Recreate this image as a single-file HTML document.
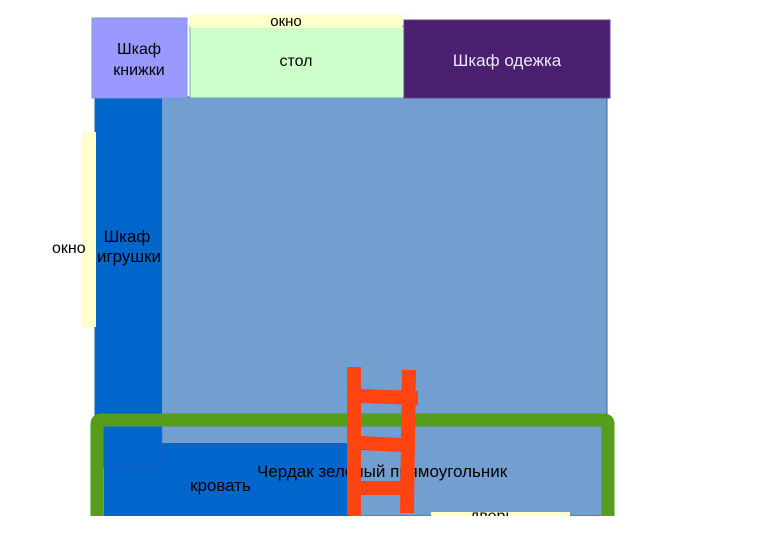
<!DOCTYPE html>
<html><head><meta charset="utf-8"><style>body{margin:0;background:#fff}svg{display:block}text{font-family:"Liberation Sans",sans-serif}</style></head><body>
<svg width="770" height="544" viewBox="0 0 770 544" xmlns="http://www.w3.org/2000/svg">
<rect x="95" y="97" width="512" height="419" fill="#729fcf" stroke="#3465a4" stroke-width="1"/>
<rect x="95" y="97" width="67" height="370" fill="#0066cc"/>
<rect x="82" y="132" width="14" height="195" fill="#ffffcc"/>
<text x="52" y="253" font-size="16" fill="#000">окно</text>
<text x="127" y="242" font-size="17" text-anchor="middle" fill="#000">Шкаф</text>
<text x="129" y="262" font-size="17" text-anchor="middle" fill="#000">игрушки</text>
<rect x="92" y="18" width="95" height="80" fill="#9999ff" stroke="#729fcf" stroke-width="1"/>
<text x="139" y="54" font-size="16" text-anchor="middle">Шкаф</text>
<text x="139" y="75" font-size="16" text-anchor="middle">книжки</text>
<rect x="190" y="26" width="214" height="72" fill="#ccffcc" stroke="#729fcf" stroke-width="1"/>
<rect x="190" y="14" width="212" height="14" fill="#ffffcc"/>
<text x="286" y="26" font-size="15" text-anchor="middle">окно</text>
<text x="296" y="66" font-size="16" text-anchor="middle">стол</text>
<rect x="404" y="20" width="206" height="78" fill="#4b1f6f" stroke="#6b3e8f" stroke-width="1"/>
<text x="507" y="66" font-size="17" text-anchor="middle" fill="#e8e8f8">Шкаф одежка</text>
<rect x="104" y="443" width="246" height="73" fill="#0066cc"/>
<rect x="104" y="428" width="58" height="39" fill="#0066cc" stroke="#3465a4" stroke-width="0.5"/>
<path d="M97,516 V424 Q97,420 101,420 H604 Q608,420 608,424 V516" fill="none" stroke="#579d1c" stroke-width="13"/>
<rect x="431" y="512" width="139" height="4" fill="#ffffcc"/>
<text x="470" y="521" font-size="16">дверь</text>
<text x="257" y="477" font-size="17">Чердак зеленый прямоугольник</text>
<text x="190" y="491" font-size="17">кровать</text>
<g fill="#ff4411">
<rect x="347" y="367" width="14" height="148"/>
<polygon points="402,370 416,370 414,513 400,513"/>
<polygon points="360,389 418,391 418,405 360,403"/>
<polygon points="360,436 404,438 404,452 360,450"/>
<rect x="360" y="481" width="42" height="14"/>
</g>
<rect x="0" y="516" width="770" height="28" fill="#fff"/>
</svg>
</body></html>
